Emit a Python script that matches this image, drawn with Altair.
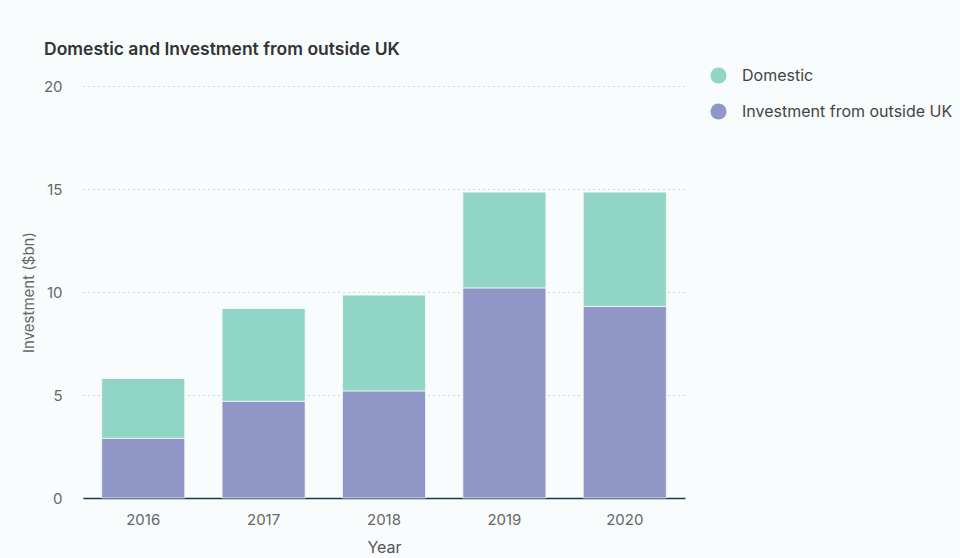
import altair as alt
import pandas as pd

years = ["2016", "2017", "2018", "2019", "2020"]
investment_outside_uk = [2.9, 4.7, 5.2, 10.2, 9.3]
domestic = [2.9, 4.5, 4.65, 4.65, 5.55]
series = ["Domestic", "Investment from outside UK"]
colors = ["#90d5c5", "#9097c6"]

rows = []
for i, y in enumerate(years):
    rows.append({"Year": y, "Series": series[1], "Value": investment_outside_uk[i], "ord": 0})
    rows.append({"Year": y, "Series": series[0], "Value": domestic[i], "ord": 1})
df = pd.DataFrame(rows)

FONT = "Inter"

chart = alt.Chart(df).mark_bar(stroke="#ffffff", strokeWidth=1, strokeOpacity=0.7).encode(
    x=alt.X("Year:N", title="Year", sort=years,
            scale=alt.Scale(paddingInner=0.31, paddingOuter=0.155),
            axis=alt.Axis(labelAngle=0, labelFontSize=15, labelColor="#666666",
                          labelPadding=14, titleFontSize=16, titleColor="#555555",
                          titleFontWeight="normal", titlePadding=12,
                          domainColor="#1d3b47", domainWidth=1.5, ticks=False, grid=False)),
    y=alt.Y("Value:Q", title="Investment ($bn)", stack="zero",
            scale=alt.Scale(domain=[0, 20]),
            axis=alt.Axis(values=[0, 5, 10, 15, 20], labelFontSize=15, labelColor="#666666",
                          labelPadding=21, titleFontSize=15, titleColor="#666666",
                          titleFontWeight="normal", titlePadding=7,
                          domain=False, ticks=False, grid=True, gridDash=[1, 4],
                          gridColor="#aaaaaa", gridWidth=1)),
    color=alt.Color("Series:N", scale=alt.Scale(domain=series, range=colors),
                    legend=alt.Legend(title=None, orient="none", legendX=627, legendY=-19,
                                      symbolType="circle", symbolSize=260, symbolStrokeWidth=0,
                                      labelFontSize=16, labelColor="#444444", rowPadding=19,
                                      labelOffset=15, labelLimit=400)),
    order=alt.Order("ord:Q", sort="ascending"),
).properties(
    width=602, height=412,
    title=alt.TitleParams("Domestic and Investment from outside UK", anchor="start", frame="group",
                          fontSize=17.5, fontWeight=600, color="#333333", dx=-39, offset=9),
    autosize=alt.AutoSizeParams(type="none"),
    padding={"left": 83, "top": 86, "right": 275, "bottom": 60},
    background="#f8fcfd",
).configure(font=FONT).configure_view(stroke=None)

chart.save("out.html", embed_options={"renderer": "svg", "actions": False})
